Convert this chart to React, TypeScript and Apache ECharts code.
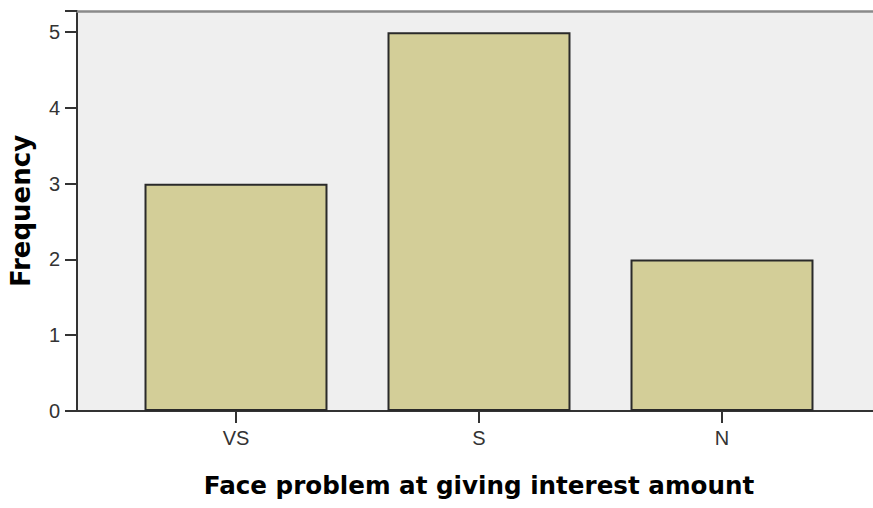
import React, { useEffect, useRef } from "react";
import * as echarts from "echarts";

const categories = ["VS", "S", "N"];
const frequencies = [3, 5, 2];
const yTicks = [0, 1, 2, 3, 4, 5];
const xTitle = "Face problem at giving interest amount";
const yTitle = "Frequency";

export default function App() {
  const ref = useRef<HTMLDivElement>(null);
  useEffect(() => {
    if (!ref.current) return;
    const chart = echarts.init(ref.current, null, { renderer: "svg" });
    const top = 11;
    const bottom = 97;
    const yMax = 5.28;
    chart.setOption({
      animation: false,
      backgroundColor: "#ffffff",
      grid: [
        { left: 73, right: -4, top, bottom, show: true, backgroundColor: "#efefef", borderWidth: 0 },
        { left: 114.5, right: 29.5, top, bottom },
      ],
      xAxis: [
        {
          gridIndex: 0, type: "value", min: 0, max: 1, position: "bottom",
          axisLine: { show: true, lineStyle: { color: "#333333", width: 2 } },
          axisTick: { show: false }, axisLabel: { show: false }, splitLine: { show: false },
        },
        {
          gridIndex: 0, type: "value", min: 0, max: 1, position: "top",
          axisLine: { show: true, lineStyle: { color: "#8a8a8a", width: 2.5 } },
          axisTick: { show: false }, axisLabel: { show: false }, splitLine: { show: false },
        },
        {
          gridIndex: 1, type: "category", data: categories, position: "bottom",
          axisLine: { show: false },
          axisTick: { show: true, alignWithLabel: true, length: 12, lineStyle: { color: "#333333", width: 2 } },
          axisLabel: { show: true, margin: 17, color: "#333333", fontSize: 20, fontFamily: "Liberation Sans" },
          name: xTitle, nameLocation: "middle", nameGap: 62,
          nameTextStyle: { fontFamily: "DejaVu Sans", fontWeight: "bold", fontSize: 24.6, color: "#000000" },
        },
      ],
      yAxis: [
        {
          gridIndex: 0, type: "value", min: 0, max: yMax, interval: 1,
          axisLine: { show: true, lineStyle: { color: "#333333", width: 2 } },
          axisTick: { show: true, length: 12, lineStyle: { color: "#333333", width: 2 } },
          axisLabel: {
            show: true, margin: 17, color: "#333333", fontSize: 20, fontFamily: "Liberation Sans",
            formatter: (v: number) => (yTicks.includes(v) ? String(v) : ""),
          },
          splitLine: { show: false },
          name: yTitle, nameLocation: "middle", nameGap: 43, nameRotate: 90,
          nameTextStyle: { fontFamily: "DejaVu Sans", fontWeight: "bold", fontSize: 26, color: "#000000" },
        },
        {
          gridIndex: 1, type: "value", min: 0, max: yMax, interval: 1, show: false,
        },
      ],
      series: [
        {
          type: "bar", xAxisIndex: 2, yAxisIndex: 1, data: frequencies,
          barCategoryGap: "24.7%",
          itemStyle: { color: "#d3ce98", borderColor: "#2a2a2a", borderWidth: 2 },
        },
      ],
    });
    return () => chart.dispose();
  }, []);
  return <div ref={ref} style={{ width: 873, height: 508, position: "absolute", left: 0, top: 0 }} />;
}
